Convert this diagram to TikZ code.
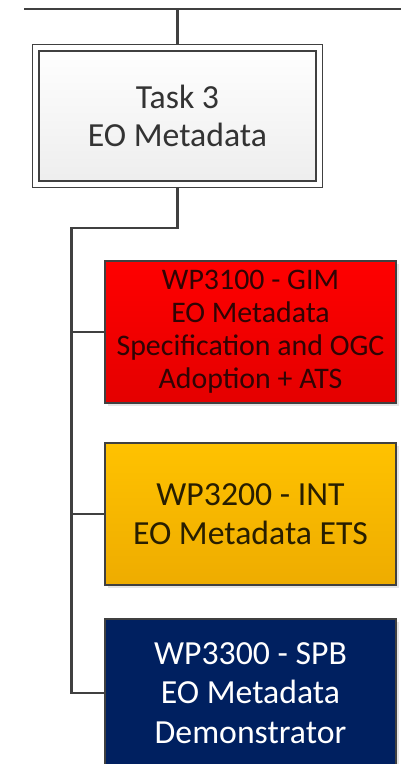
\documentclass[tikz,border=0pt]{standalone}
\usepackage{fontspec}
\setmainfont{Carlito}
\usetikzlibrary{shadows}
\definecolor{linegrey}{RGB}{64,64,64}
\definecolor{wpred}{RGB}{255,0,0}
\definecolor{wpredlow}{RGB}{228,0,0}
\definecolor{wpgold}{RGB}{255,194,0}
\definecolor{wpgoldlow}{RGB}{238,172,0}
\definecolor{wpnavy}{RGB}{0,32,96}
\tikzset{
        % boxes of the breakdown, sizes are in pt (not scaled with x,y)
        task box/.style={
            draw=linegrey, line width=1.15pt, double=white, double distance=3.6pt,
            outer sep=2.95pt,
            top color=white, bottom color=gray!14,
            minimum width=212.5pt, minimum height=102.25pt,
            align=center, text=black!80,
            font=\fontsize{25.3}{28.5}\selectfont,
            drop shadow={shadow xshift=2pt,shadow yshift=-2pt,opacity=0.2},
        },
        wp box/.style={
            draw=linegrey, line width=1pt,
            minimum width=218.25pt, minimum height=106.5pt,
            align=center, font=\fontsize{25.3}{29.5}\selectfont,
            drop shadow={shadow xshift=2pt,shadow yshift=-2pt,opacity=0.2},
        },
        tree line/.style={draw=linegrey, line width=2.2pt},
    }
\begin{document}
\begin{tikzpicture}[x=0.75pt,y=0.75pt,yscale=-1]
\useasboundingbox (0,0) rectangle (400,764);

% Task Node
\node [task box] (task) at (177.5,116) {Task 3\\EO Metadata};
% WP Nodes
\node [wp box, top color=wpred, bottom color=wpredlow, text={rgb,255:red,48;green,4;blue,4},
       font=\fontsize{22.4}{24.75}\selectfont] (wp31) at (250.5,332)
      {WP3100 - GIM\\EO Metadata\\Specification and OGC\\Adoption + ATS};
\node [wp box, top color=wpgold, bottom color=wpgoldlow, text={rgb,255:red,40;green,30;blue,0}] (wp32) at (250.5,514)
      {WP3200 - INT\\EO Metadata ETS};
\node [wp box, fill=wpnavy, text=white, minimum height=111pt] (wp33) at (250.5,693)
      {WP3300 - SPB\\EO Metadata\\Demonstrator};

%Straight Lines
\coordinate (bus west) at (24,9);
\coordinate (bus east) at (404,9);
\coordinate (bend) at (71.5,228);
\draw [tree line] (bus west) -- (bus east);
\draw [tree line] (bus west -| task.north) -- (task.north);
\draw [tree line] (task.south) |- (bend) -- (bend |- wp33.west) -- (wp33.west);
\draw [tree line] (bend |- wp31.west) -- (wp31.west);
\draw [tree line] (bend |- wp32.west) -- (wp32.west);

\end{tikzpicture}
\end{document}
